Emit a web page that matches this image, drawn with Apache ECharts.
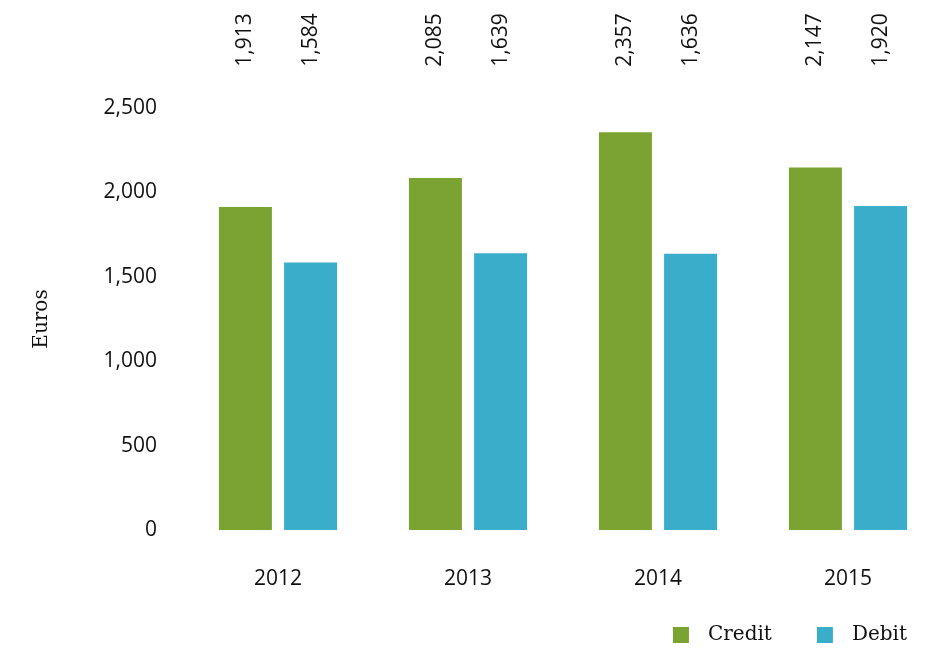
<!DOCTYPE html>
<html>
<head>
<meta charset="utf-8">
<script src="https://cdn.jsdelivr.net/npm/echarts@6/dist/echarts.min.js"></script>
<style>
  html, body { margin: 0; padding: 0; background: #ffffff; }
  #chart { width: 925px; height: 650px; }
</style>
</head>
<body>
<div id="chart"></div>
<script>
// Average card spending per year, in euros
const years = ['2012', '2013', '2014', '2015'];
const creditValues = [1913, 2085, 2357, 2147];
const debitValues = [1584, 1639, 1636, 1920];
const yTicks = [0, 500, 1000, 1500, 2000, 2500];

const GREEN = '#7aa332';
const BLUE = '#39adc9';
const sansFont = '"Open Sans", "Noto Sans", sans-serif';
const serifFont = '"DejaVu Serif", "Liberation Serif", serif';

const fmt = v => v.toLocaleString('en-US');

// Value labels sit in a row along the top, rotated, above each bar
const topLabel = {
  show: true,
  rotate: 90,
  align: 'center',
  verticalAlign: 'middle',
  fontFamily: sansFont,
  fontSize: 21,
  color: '#111',
  formatter: p => fmt(p.value)
};
const topLabelLayout = params => ({
  x: params.rect.x + params.rect.width / 2,
  y: 40,
  align: 'center',
  verticalAlign: 'middle'
});

const chart = echarts.init(document.getElementById('chart'), null, { renderer: 'canvas' });
chart.setOption({
  animation: false,
  backgroundColor: '#ffffff',
  grid: { left: 183, width: 760, top: 108, bottom: 120, outerBoundsMode: 'none', containLabel: false },
  legend: {
    right: 13,
    bottom: 0,
    itemWidth: 16,
    itemHeight: 16,
    itemGap: 45,
    icon: 'rect',
    textStyle: { fontFamily: serifFont, fontSize: 20, color: '#111', padding: [0, 0, 0, 14] },
    data: ['Credit', 'Debit']
  },
  xAxis: {
    type: 'category',
    data: years,
    axisLine: { show: false },
    axisTick: { show: false },
    axisLabel: { margin: 39, fontFamily: sansFont, fontSize: 21, color: '#111' }
  },
  yAxis: {
    type: 'value',
    min: yTicks[0],
    max: yTicks[yTicks.length - 1],
    interval: yTicks[1] - yTicks[0],
    name: 'Euros',
    nameLocation: 'middle',
    nameGap: 131,
    nameTextStyle: { fontFamily: serifFont, fontSize: 20, color: '#111' },
    axisLine: { show: false },
    axisTick: { show: false },
    splitLine: { show: false },
    axisLabel: { margin: 26, fontFamily: sansFont, fontSize: 21, color: '#111', formatter: v => fmt(v) }
  },
  series: [
    {
      name: 'Credit',
      type: 'bar',
      data: creditValues,
      barWidth: 53,
      barGap: '23%',
      itemStyle: { color: GREEN },
      label: topLabel,
      labelLayout: topLabelLayout
    },
    {
      name: 'Debit',
      type: 'bar',
      data: debitValues,
      barWidth: 53,
      barGap: '23%',
      itemStyle: { color: BLUE },
      label: topLabel,
      labelLayout: topLabelLayout
    }
  ]
});
</script>
</body>
</html>
